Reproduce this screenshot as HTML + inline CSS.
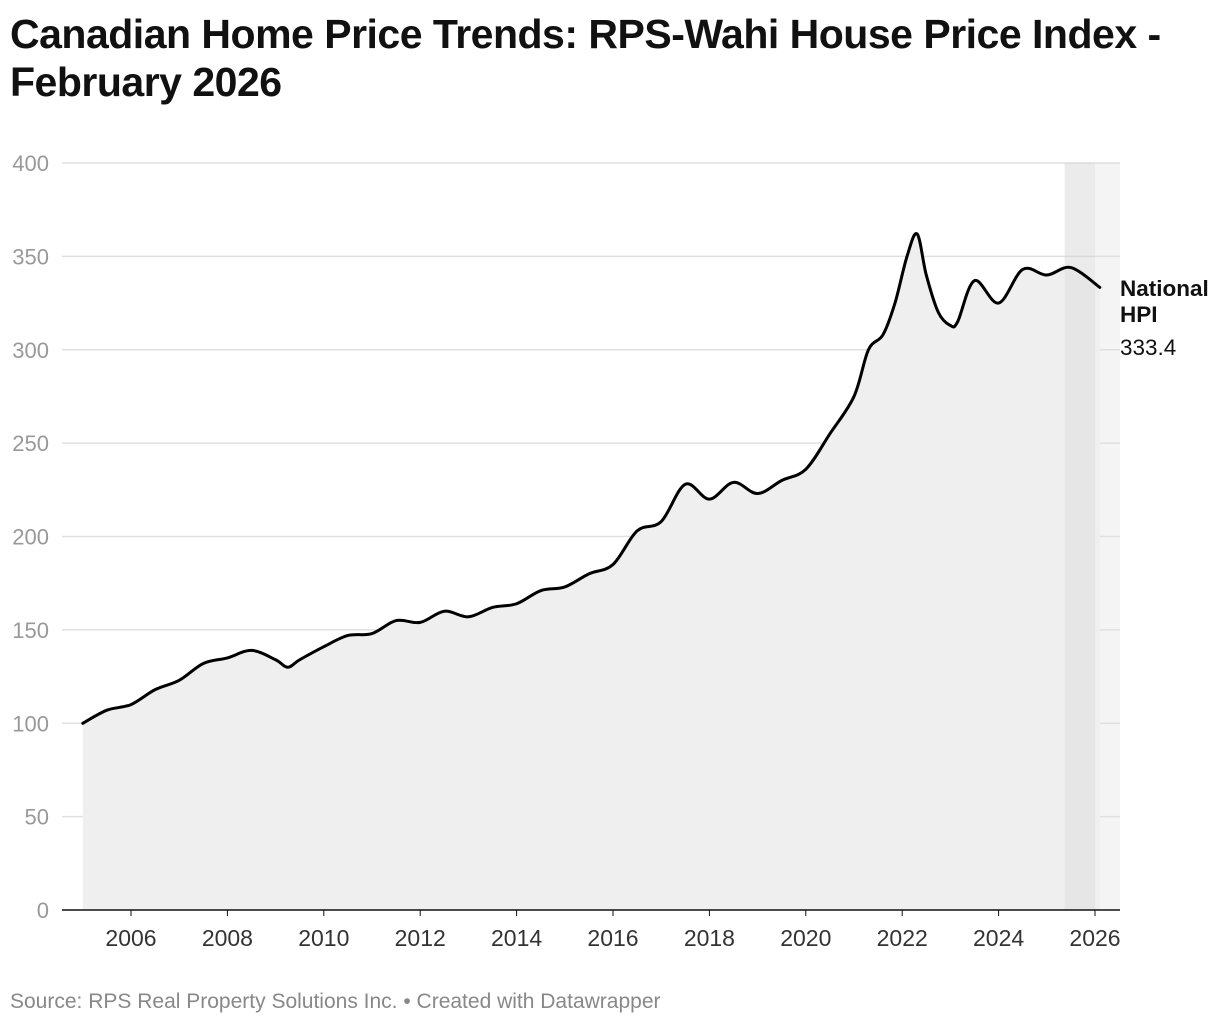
<!DOCTYPE html>
<html><head><meta charset="utf-8"><style>
body{margin:0;background:#fff;width:1220px;height:1026px;overflow:hidden;font-family:"Liberation Sans",sans-serif;}
h1{position:absolute;left:10px;top:10px;margin:0;font-size:41px;line-height:48px;font-weight:bold;color:#111;letter-spacing:-0.5px;}
#src{position:absolute;left:10px;top:990px;font-size:21px;color:#888;}
svg{position:absolute;left:0;top:0;}
</style></head><body>
<h1>Canadian Home Price Trends: RPS-Wahi House Price Index -<br>February 2026</h1>
<svg id="chart" width="1220" height="1026"></svg>
<div id="src">Source: RPS Real Property Solutions Inc. • Created with Datawrapper</div>
<script>
const years=[2005.0,2005.5,2006.0,2006.5,2007.0,2007.5,2008.0,2008.5,2009.0,2009.25,2009.5,2010.0,2010.5,2011.0,2011.5,2012.0,2012.5,2013.0,2013.5,2014.0,2014.5,2015.0,2015.5,2016.0,2016.5,2017.0,2017.5,2018.0,2018.5,2019.0,2019.5,2020.0,2020.5,2021.0,2021.3,2021.6,2021.85,2022.1,2022.31,2022.5,2022.75,2023.0,2023.15,2023.5,2024.0,2024.5,2025.0,2025.5,2026.1];
const hpi=[100,107,110,118,123,132,135,139,134,130,134,141,147,148,155,154,160,157,162,164,171,173,180,185,203,208,228,220,229,223,230,236,255,275,300,308,325,350,362,340,320,313,315,337,325,343,340,344,333.4];
const yTicks=[0,50,100,150,200,250,300,350,400];
const xTicks=[2006,2008,2010,2012,2014,2016,2018,2020,2022,2024,2026];
const band=[2025.37,2026.0];
const NS="http://www.w3.org/2000/svg";
const svg=document.getElementById('chart');
const X=v=>131+(v-2006)*48.2;
const Y=v=>910-v*1.8675;
function mk(t,a,p){const e=document.createElementNS(NS,t);for(const k in a)e.setAttribute(k,a[k]);(p||svg).appendChild(e);return e;}
let bg=mk('rect',{x:X(band[0]),y:163,width:1120-X(band[0]),height:747,fill:'#f4f4f4'});


yTicks.forEach(t=>{
 if(t>0){let g=mk('line',{x1:62,x2:1120,y1:Y(t),y2:Y(t),stroke:'#e0e0e0','stroke-width':1.5});
 
 }
 let l=mk('text',{x:49,y:Y(t)+8,'text-anchor':'end','font-size':22,fill:'#999'});l.textContent=t;
 
 
});
const pts=years.map((y,i)=>[X(y),Y(hpi[i])]);
function smooth(p){let d='M'+p[0][0]+','+p[0][1];for(let i=0;i<p.length-1;i++){const p0=p[i-1]||p[i],p1=p[i],p2=p[i+1],p3=p[i+2]||p2;const t=6;d+=` C${p1[0]+(p2[0]-p0[0])/t},${p1[1]+(p2[1]-p0[1])/t} ${p2[0]-(p3[0]-p1[0])/t},${p2[1]-(p3[1]-p1[1])/t} ${p2[0]},${p2[1]}`;}return d;}
const d=smooth(pts);
let area=mk('path',{d:d+`L${pts[pts.length-1][0]},910L${pts[0][0]},910Z`,fill:'#efefef'});


let ov=mk('rect',{x:X(band[0]),y:163,width:X(band[1])-X(band[0]),height:747,fill:'#000',opacity:0.035});


let line=mk('path',{d:d,fill:'none',stroke:'#000','stroke-width':3,'stroke-linejoin':'round','stroke-linecap':'round'});


let ax=mk('line',{x1:62,x2:1120,y1:910,y2:910,stroke:'#111','stroke-width':1.5});


xTicks.forEach(t=>{
 let tk=mk('line',{x1:X(t),x2:X(t),y1:910,y2:916,stroke:'#111','stroke-width':1});
 
 
 let l=mk('text',{x:X(t),y:946,'text-anchor':'middle','font-size':23,fill:'#333'});l.textContent=t;
 
 
});
const lab=[['National',296,'bold'],['HPI',322,'bold'],[String(hpi[hpi.length-1]),355,'normal']];
lab.forEach(a=>{let t=mk('text',{x:1120,y:a[1],'font-size':22.5,'font-weight':a[2],fill:'#111'});t.textContent=a[0];
 
 });
</script>
</body></html>
